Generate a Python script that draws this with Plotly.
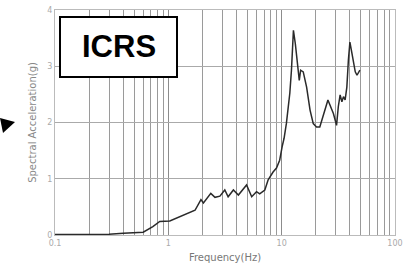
import plotly.graph_objects as go

# Data
freq = [0.1, 0.2, 0.3, 0.4, 0.5, 0.6, 0.73, 0.84, 1.03, 1.27, 1.55, 1.72, 1.94, 2.04,
        2.37, 2.58, 2.85, 3.15, 3.37, 3.75, 4.15, 4.9, 5.44, 6.0, 6.4, 7.1, 7.6, 8.4,
        9.0, 9.6, 10.1, 10.5, 11.0, 11.8, 12.2, 12.7, 13.2, 13.7, 14.3, 14.7, 15.5,
        16.6, 17.8, 19.0, 20.3, 21.7, 24.1, 25.6, 28.6, 30.5, 31.6, 32.8, 34.0, 35.1,
        36.3, 37.6, 38.8, 40.0, 41.7, 43.0, 44.6, 46.2, 49.0]
accel = [0.01, 0.01, 0.015, 0.03, 0.04, 0.05, 0.15, 0.24, 0.25, 0.33, 0.40, 0.44, 0.63, 0.57,
         0.74, 0.67, 0.69, 0.80, 0.68, 0.80, 0.71, 0.89, 0.68, 0.77, 0.73, 0.80, 0.98, 1.12,
         1.19, 1.33, 1.57, 1.72, 1.98, 2.52, 2.93, 3.64, 3.40, 3.05, 2.75, 2.93, 2.90,
         2.63, 2.22, 1.98, 1.92, 1.92, 2.22, 2.40, 2.16, 1.95, 2.28, 2.49, 2.37, 2.46,
         2.40, 2.63, 3.11, 3.43, 3.23, 3.05, 2.90, 2.84, 2.93]

x_major = [0.1, 1, 10, 100]
x_major_labels = ["0.1", "1", "10", "100"]
x_minor = [m * d for d in (0.1, 1, 10) for m in range(2, 10)]
y_ticks = [0, 1, 2, 3, 4]
y_labels = ["0", "1", "2", "3", "4"]

FONT = "DejaVu Sans, Liberation Sans, Arial"

fig = go.Figure()
fig.add_trace(go.Scatter(x=freq, y=accel, mode="lines",
                         line=dict(color="#2a2a2a", width=1.5), showlegend=False))

fig.update_layout(
    width=417, height=267,
    margin=dict(l=55, r=22, t=10, b=32, autoexpand=False),
    paper_bgcolor="white", plot_bgcolor="white",
    font=dict(family=FONT, color="#888"),
    xaxis=dict(type="log", range=[-1, 2], tickvals=x_major, ticktext=x_major_labels,
               automargin=False,
               showgrid=True, gridcolor="#8c8c8c", gridwidth=1,
               minor=dict(tickvals=x_minor, showgrid=True, gridcolor="#9a9a9a", gridwidth=1),
               showline=True, linecolor="#bbbbbb", mirror=True, zeroline=False,
               ticks="", tickfont=dict(family=FONT, size=8, color="#aaa"),
               title=dict(text="Frequency(Hz)", font=dict(family=FONT, size=10, color="#777"), standoff=7)),
    yaxis=dict(range=[0, 4], tickvals=y_ticks, ticktext=y_labels,
               automargin=False,
               showgrid=True, gridcolor="#aaaaaa", gridwidth=1,
               showline=True, linecolor="#bbbbbb", mirror=True, zeroline=False,
               ticks="", tickfont=dict(family=FONT, size=8, color="#aaa"),
               title=dict(text="Spectral Acceleration(g)", font=dict(family=FONT, size=10, color="#888"), standoff=8)),
)

# ICRS label box
fig.add_shape(type="rect", xref="paper", yref="paper",
              x0=(60 - 55) / 340, x1=(177 - 55) / 340,
              y0=(235 - 77) / 225, y1=(235 - 17) / 225,
              line=dict(color="black", width=2), fillcolor="white", layer="above")
fig.add_annotation(xref="paper", yref="paper", x=(118.5 - 55) / 340, y=(235 - 46) / 225,
                   xanchor="center", yanchor="middle",
                   text="<b>ICRS</b>", showarrow=False,
                   font=dict(family="Liberation Sans, Arial", size=31, color="black"))

# arrowhead at far left
fig.add_shape(type="path", xref="paper", yref="paper",
              path="M {} {} L {} {} L {} {} Z".format(
                  (0 - 55) / 340, (235 - 118) / 225,
                  (15 - 55) / 340, (235 - 122) / 225,
                  (3 - 55) / 340, (235 - 133) / 225),
              fillcolor="black", line=dict(color="black", width=0))

# remove the default page margin so the figure sits at the window origin
fig.write_html("out.html", config={"displayModeBar": False},
               post_script="document.body.style.margin='0';")
